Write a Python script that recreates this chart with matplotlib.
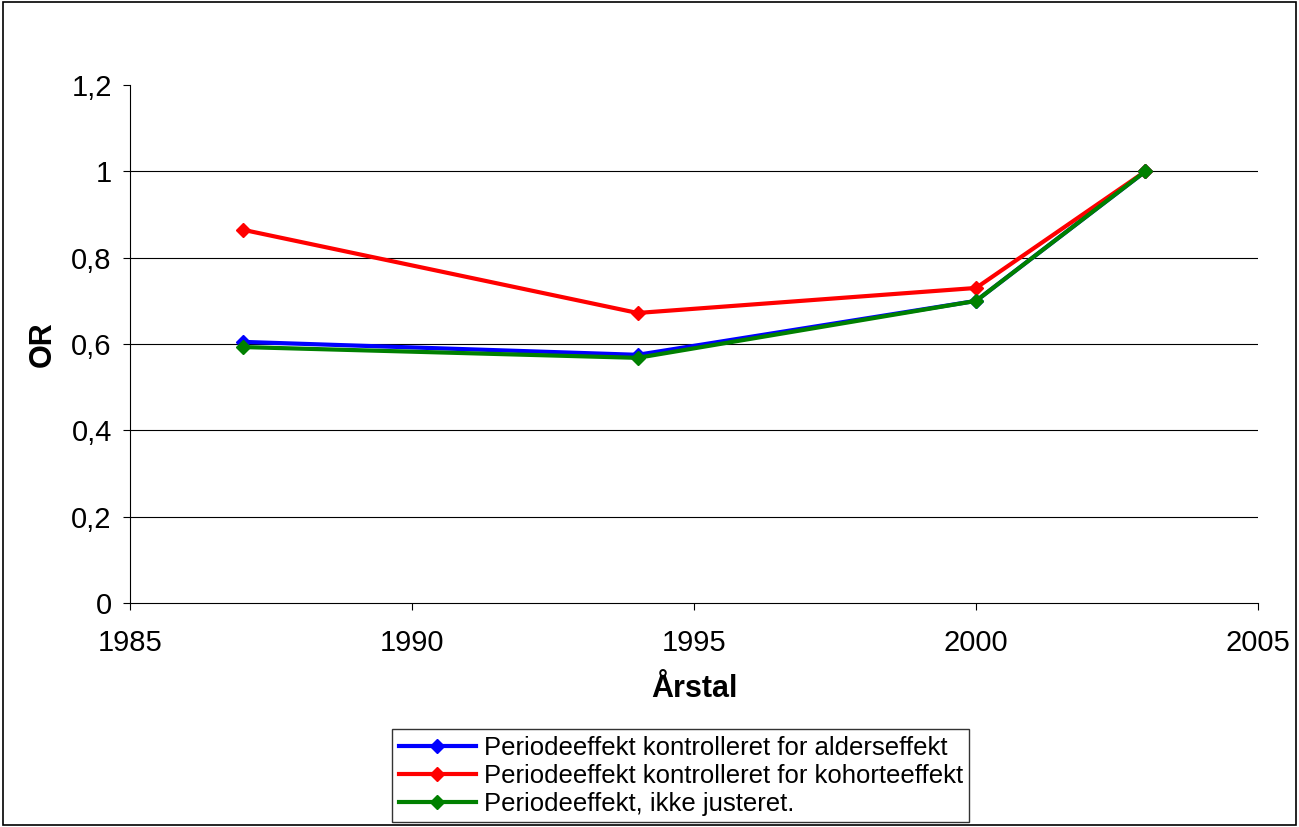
import matplotlib
matplotlib.use("Agg")
from matplotlib import pyplot as plt
from matplotlib.patches import Rectangle

years = [1987, 1994, 2000, 2003]
alder = [0.605, 0.575, 0.70, 1.0]
kohorte = [0.865, 0.672, 0.73, 1.0]
ikke_just = [0.593, 0.568, 0.70, 1.0]
labels = ["Periodeeffekt kontrolleret for alderseffekt",
          "Periodeeffekt kontrolleret for kohorteeffekt",
          "Periodeeffekt, ikke justeret."]

plt.rcParams['font.family'] = ['Liberation Sans', 'DejaVu Sans']
fig = plt.figure(figsize=(12.99, 8.27), dpi=100)
fig.patches.append(Rectangle((0.002, 0.002), 0.996, 0.996, transform=fig.transFigure,
                             fill=False, edgecolor='black', linewidth=1.2))
ax = fig.add_axes([0.1, 0.271, 0.8685, 0.626])

for vals, col, lab in zip([alder, kohorte, ikke_just], ['#0000ff', '#ff0000', '#008000'], labels):
    ax.plot(years, vals, color=col, lw=3, marker='D', markersize=7, label=lab)

ax.set_xlim(1985, 2005)
ax.set_ylim(0, 1.2)
ax.set_xticks([1985, 1990, 1995, 2000, 2005])
ax.set_yticks([0, 0.2, 0.4, 0.6, 0.8, 1.0, 1.2])
ax.set_yticklabels(['0', '0,2', '0,4', '0,6', '0,8', '1', '1,2'])
for y in [0.2, 0.4, 0.6, 0.8, 1.0]:
    ax.axhline(y, color='black', lw=0.8, zorder=0)
ax.spines['top'].set_visible(False)
ax.spines['right'].set_visible(False)
ax.tick_params(labelsize=21, direction='out', length=5)
ax.tick_params(axis='x', pad=14)
ax.tick_params(axis='y', pad=8)
ax.set_xlabel("Årstal", fontsize=22, fontweight='bold', labelpad=12)
ax.set_ylabel("OR", fontsize=22, fontweight='bold', labelpad=10)

fig.legend(loc='lower left', bbox_to_anchor=(0.302, 0.006), fontsize=18.5, frameon=True,
           fancybox=False, edgecolor='black', borderpad=0.25, labelspacing=0.15,
           handlelength=3, handletextpad=0.3, borderaxespad=0)
fig.savefig("out.png", dpi=100)
